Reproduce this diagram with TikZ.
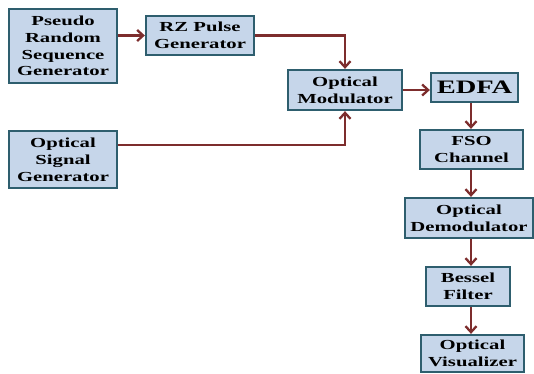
\documentclass[tikz,border=0pt]{standalone}
\usepackage{fontspec}
\setmainfont{Liberation Serif}[FakeStretch=1.5]
\usepackage{tikz}
\usetikzlibrary{arrows.meta,positioning,calc}

\definecolor{boxfill}{RGB}{198,214,234}
\definecolor{boxline}{RGB}{46,94,110}
\definecolor{linkred}{RGB}{125,45,45}

\begin{document}
\begin{tikzpicture}[
  x=1pt,y=-1pt,
  blk/.style={draw=boxline,fill=boxfill,line width=2.3pt,align=center,
    inner sep=0pt,font=\fontsize{13.8}{16.8}\selectfont\bfseries},
  link/.style={draw=linkred,line width=2.3pt,-{Straight Barb[length=6pt,width=11pt,line width=2.3pt]}},
  plain/.style={draw=linkred,line width=2.3pt}
]
\useasboundingbox (0,0) rectangle (534,373);

% ===================== LEFT: sources =====================
\node[blk,minimum width=108pt,minimum height=74pt] (prs) at (63,46) {Pseudo\\Random\\Sequence\\Generator};
\node[blk,minimum width=108pt,minimum height=39pt] (rz) at (200,35.5) {RZ Pulse\\Generator};
\node[blk,minimum width=108pt,minimum height=57pt] (osg) at (63,159.5) {Optical\\Signal\\Generator};

% ===================== MIDDLE: modulator + amplifier =====================
\node[blk,minimum width=114pt,minimum height=40pt] (mod) at (345,90) {Optical\\Modulator};
\node[blk,minimum width=87pt,minimum height=29pt,font=\fontsize{19}{21}\selectfont\bfseries] (edfa) at (474.5,87.5) {EDFA};

% ===================== RIGHT: receiver chain =====================
\node[blk,minimum width=103pt,minimum height=39pt] (fso) at (471.5,149.5) {FSO\\Channel};
\node[blk,minimum width=128pt,minimum height=40pt] (demod) at (469,218) {Optical\\Demodulator};
\node[blk,minimum width=84pt,minimum height=39pt] (bessel) at (468,286.5) {Bessel\\Filter};
\node[blk,minimum width=103pt,minimum height=37pt] (vis) at (472.5,353.5) {Optical\\Visualizer};

% connectors
\draw[link] (prs.east |- rz.west) -- (rz.west);
\draw[link] (rz.east) -| (mod.north);
\draw[link] ([yshift=14.5pt]osg.east) -| (mod.south);
\draw[link] (mod.east) -- (mod.east -| edfa.west);
\draw[link] (471,0 |- edfa.south) -- (471,0 |- fso.north);
\draw[link] (471,0 |- fso.south) -- (471,0 |- demod.north);
\draw[link] (471,0 |- demod.south) -- (471,0 |- bessel.north);
\draw[link] (471,0 |- bessel.south) -- (471,0 |- vis.north);

\end{tikzpicture}
\end{document}
